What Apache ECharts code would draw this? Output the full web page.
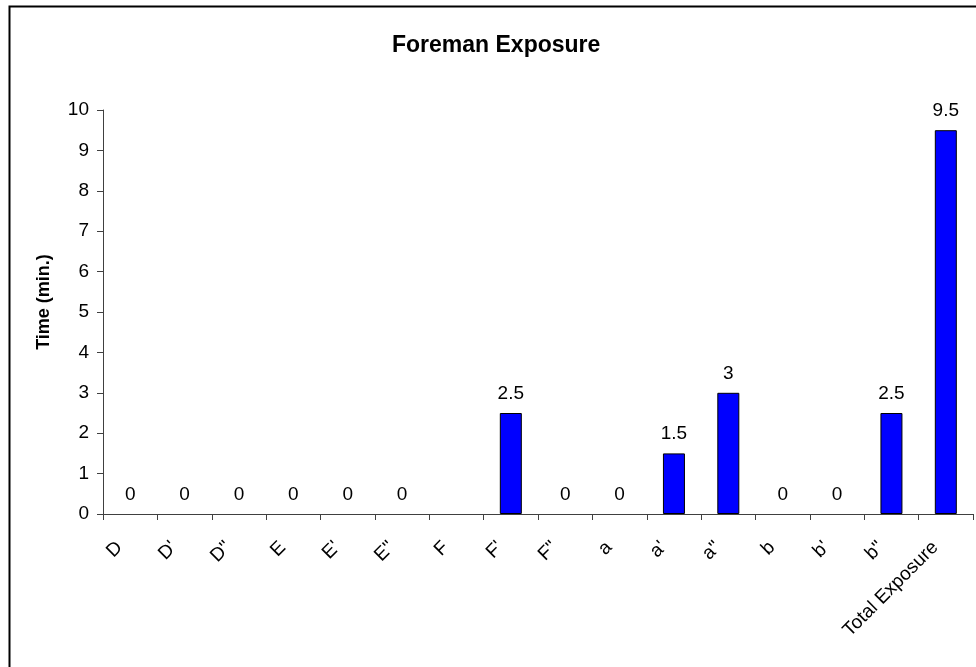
<!DOCTYPE html>
<html><head><meta charset="utf-8">
<script src="https://cdn.jsdelivr.net/npm/echarts@6/dist/echarts.min.js"></script>
<style>html,body{margin:0;padding:0;background:#fff}#c{width:976px;height:667px}</style>
</head><body><div id="c"></div>
<script>
const categories = ["D","D'","D\"","E","E'","E\"","F","F'","F\"","a","a'","a\"","b","b'","b\"","Total Exposure"];
const values = [0,0,0,0,0,0,null,2.5,0,0,1.5,3,0,0,2.5,9.5];
const yTicks = {min:0, max:10, interval:1};
const chart = echarts.init(document.getElementById('c'), null, {renderer:'canvas'});
const font = 'Liberation Sans, Arial, sans-serif';
const barData = values.map(v => (v === 0 ? {value:v, itemStyle:{borderWidth:0}} : v));
chart.setOption({
  animation:false,
  backgroundColor:'#fff',
  graphic:[{type:'rect', left:7, top:4, shape:{width:1000, height:1000}, style:{fill:'none', stroke:'#000', lineWidth:2}, silent:true}],
  title:{text:'Foreman Exposure', left:387, top:29, textStyle:{fontFamily:font, fontSize:23, fontWeight:'bold', color:'#000'}},
  grid:{left:103, right:3, top:110, bottom:153, containLabel:false},
  xAxis:{type:'category', data:categories,
    axisLine:{lineStyle:{color:'#404040', width:1}},
    axisTick:{show:true, length:6, lineStyle:{color:'#404040'}},
    axisLabel:{rotate:45, interval:0, margin:20, padding:[0,15,0,0], fontFamily:font, fontSize:19, color:'#000'}},
  yAxis:{type:'value', min:yTicks.min, max:yTicks.max, interval:yTicks.interval,
    name:'Time (min.)', nameLocation:'middle', nameGap:50,
    nameTextStyle:{fontFamily:font, fontSize:18, fontWeight:'bold', color:'#000', padding:[0,0,0,20]},
    axisLine:{show:true, lineStyle:{color:'#404040', width:1}},
    axisTick:{show:true, length:6, lineStyle:{color:'#404040'}},
    splitLine:{show:false},
    axisLabel:{fontFamily:font, fontSize:19, color:'#000', margin:14}},
  series:[{type:'bar', data:barData, barWidth:22,
    itemStyle:{color:'#0000FF', borderColor:'#000', borderWidth:1},
    label:{show:true, position:'top', distance:10, fontFamily:font, fontSize:19, color:'#000'}}]
});
</script></body></html>
